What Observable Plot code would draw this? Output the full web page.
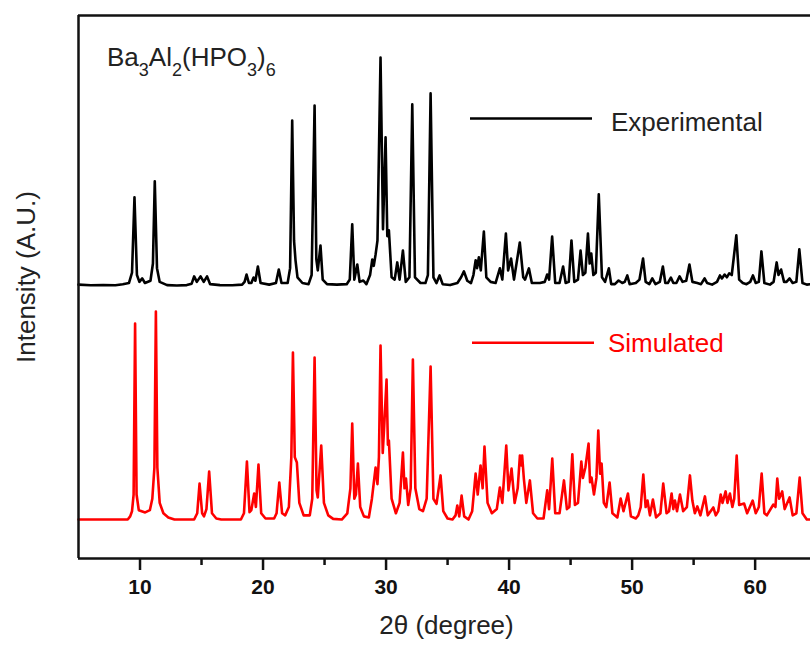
<!DOCTYPE html>
<html><head><meta charset="utf-8">
<script src="https://cdn.jsdelivr.net/npm/d3@7"></script>
<script src="https://cdn.jsdelivr.net/npm/@observablehq/plot@0.6"></script>
<style>body{margin:0;background:#fff}svg{display:block}</style>
</head><body><div id="chart"></div>
<script>
// [2θ (degree), relative intensity (max = 100)]
const experimental = [[5,0.8],[6,0.5],[7,0.6],[8,0.5],[8.6,1.0],[9.1,1.5],[9.35,6],[9.55,38.9],[9.75,5],[9.95,2],[10.18,3.5],[10.4,1.5],[10.85,2.5],[11.05,10],[11.2,45.9],[11.38,8],[11.6,2],[12.2,0.6],[13,0.4],[13.8,0.6],[14.2,1.2],[14.4,4.4],[14.62,2],[14.92,4.4],[15.18,2],[15.45,4.4],[15.7,1],[16.5,0.6],[17.5,0.5],[18.3,0.8],[18.5,2],[18.66,5.2],[18.85,1.5],[19.05,1.5],[19.23,3.9],[19.38,2.5],[19.58,8.7],[19.8,1.5],[20.5,0.8],[21.05,1.5],[21.28,7.4],[21.5,1.5],[22.0,1.5],[22.2,8],[22.37,72.5],[22.52,20],[22.64,11.4],[22.8,4],[23.2,1.5],[23.7,1],[23.95,5],[24.19,79],[24.33,12],[24.45,7],[24.67,17.9],[24.85,3],[25.2,1],[26,0.8],[26.8,1],[27.05,3],[27.25,27.1],[27.42,3],[27.66,9.6],[27.85,2],[28.15,2.6],[28.4,1],[28.7,5],[28.88,11.8],[29.0,9],[29.15,14],[29.3,20],[29.55,100],[29.75,25],[29.96,65.1],[30.1,22],[30.23,24.5],[30.45,4],[30.7,3],[30.91,10.5],[31.1,3],[31.37,15.7],[31.6,2],[31.9,4],[32.13,79.5],[32.35,4],[32.8,1.5],[33.2,1.5],[33.4,5],[33.62,84.3],[33.85,4],[34.1,1.5],[34.35,4.8],[34.6,1],[35.2,0.6],[35.8,1.5],[36.1,4],[36.33,6.6],[36.6,2.5],[36.9,1.5],[37.1,5],[37.28,11.4],[37.4,8],[37.54,12.7],[37.7,7],[37.95,24],[38.15,4],[38.5,2],[38.9,1.5],[39.25,7.9],[39.45,3],[39.74,23.1],[39.92,7],[40.16,12.2],[40.4,3],[40.87,19.2],[41.15,4],[41.3,3],[41.61,7.9],[41.85,1.5],[42.5,1.5],[42.9,2],[43.09,5.2],[43.25,3],[43.5,21.8],[43.75,1.5],[44.1,1.5],[44.39,8.7],[44.6,1.5],[44.85,2],[45.07,20.1],[45.3,2],[45.6,3],[45.81,15.7],[46.0,5],[46.2,6],[46.41,23.1],[46.55,10],[46.68,14.4],[46.85,5],[47.05,6],[47.29,40.2],[47.55,4],[47.8,2],[48.11,7.9],[48.3,1],[48.6,1],[48.9,2.6],[49.2,1.5],[49.4,2],[49.61,4.8],[49.8,1],[50.3,1.5],[50.6,3],[50.89,12.2],[51.1,2],[51.4,1],[51.64,3.5],[51.9,1],[52.25,2],[52.5,8.7],[52.7,1.5],[52.9,1.5],[53.15,3.9],[53.35,1.5],[53.6,1.5],[53.86,4.4],[54.1,2],[54.4,2.5],[54.66,9.6],[54.9,2],[55.3,1.5],[55.6,1],[55.89,3.5],[56.1,1.5],[56.5,0.8],[56.9,2],[57.14,4.8],[57.3,3.5],[57.52,5.2],[57.7,4],[57.89,5.7],[58.1,5],[58.47,22.3],[58.7,3],[59.0,1.5],[59.3,1],[59.6,2],[59.82,4.8],[60.05,1.5],[60.3,2],[60.51,15.3],[60.75,1.5],[61.2,0.8],[61.5,2],[61.75,10.5],[61.9,5],[62.11,7.4],[62.35,2],[62.55,2],[62.8,3.5],[63.05,1.5],[63.35,2],[63.59,16.2],[63.85,1.5],[64.2,0.8],[64.5,1]];

const simulated = [[5,0],[9.0,0],[9.2,1.5],[9.35,4],[9.48,12],[9.6,94.2],[9.72,12],[9.9,4.5],[10.42,3.4],[10.8,4.5],[11.0,10],[11.17,25],[11.29,100],[11.41,25],[11.6,8],[11.9,3],[12.3,1],[12.8,0],[14.4,0],[14.65,3],[14.84,17.3],[15.05,3],[15.2,1.5],[15.4,5],[15.62,23.1],[15.85,3],[16.2,0.5],[16.6,0],[18.2,0],[18.45,3],[18.69,27.9],[18.9,3.5],[19.05,4.5],[19.28,12.5],[19.42,6],[19.63,26.4],[19.85,3],[20.2,0.5],[20.9,0.5],[21.1,3],[21.32,17.8],[21.55,3],[21.8,2],[22.1,6],[22.3,30],[22.43,80.3],[22.58,30],[22.75,27.4],[22.95,8],[23.3,2],[23.8,2],[24.0,10],[24.19,77.9],[24.35,14],[24.45,10.6],[24.73,35.6],[24.95,8],[25.3,2],[25.7,0.3],[26.4,0],[26.85,3],[27.1,15],[27.25,46.2],[27.42,10],[27.55,12],[27.71,26.9],[27.9,6],[28.2,1.5],[28.6,1],[28.85,10],[29.15,25],[29.3,17],[29.42,30],[29.55,83.7],[29.73,32],[29.85,45],[30.04,67.3],[30.15,36],[30.23,38],[30.45,10],[30.8,3],[31.1,8],[31.37,32.2],[31.5,15],[31.62,19.7],[31.8,7],[32.0,15],[32.18,76.9],[32.38,15],[32.7,5],[33.0,4],[33.3,10],[33.62,73.6],[33.85,10],[34.1,7.5],[34.43,21.2],[34.65,4],[35.0,0.5],[35.4,0],[35.65,2],[35.79,6.7],[35.95,1.5],[36.14,11.5],[36.35,1.5],[36.7,0],[37.0,4],[37.28,22.1],[37.45,12],[37.68,26],[37.85,15],[38.0,35.1],[38.25,8],[38.6,3],[39.0,5],[39.25,15.4],[39.45,8],[39.77,35.6],[39.95,14],[40.2,24.5],[40.45,8],[40.7,15],[40.88,30.8],[41.0,26],[41.06,30.8],[41.2,19.7],[41.4,8],[41.69,18.8],[41.95,3],[42.3,0.5],[42.8,0.5],[43.1,14],[43.25,5],[43.51,29.3],[43.75,3],[44.1,3],[44.46,18.8],[44.7,5],[44.9,6],[45.14,31.3],[45.35,7],[45.6,8],[45.87,27.9],[46.0,20],[46.2,25],[46.46,36.5],[46.58,18],[46.7,20.2],[46.9,12],[47.1,20],[47.25,42.8],[47.4,22],[47.52,26.9],[47.7,8],[47.9,6],[48.17,17.8],[48.4,3],[48.8,1],[49.07,10.1],[49.3,4],[49.66,12.5],[49.9,1.5],[50.3,0.5],[50.5,2],[50.7,6],[50.91,21.6],[51.1,6],[51.25,9.1],[51.45,2],[51.69,9.6],[51.95,1],[52.3,3],[52.53,17.3],[52.8,3],[53.0,4],[53.21,12.5],[53.35,5],[53.48,9.1],[53.65,4],[53.89,12],[54.15,4],[54.45,6],[54.7,21.2],[54.9,9],[55.1,3],[55.3,6.3],[55.55,2],[55.92,11.1],[56.15,2],[56.6,5.8],[56.8,2],[57.0,4],[57.2,12],[57.35,8],[57.6,13.5],[57.75,8],[57.95,12.5],[58.15,6],[58.3,10],[58.5,30.8],[58.7,7],[59.1,7.7],[59.35,3],[59.8,9.1],[60.05,3],[60.3,6],[60.53,22.1],[60.75,3],[60.95,2],[61.48,7.2],[61.65,6],[61.8,19.7],[61.95,10],[62.2,13.5],[62.4,5],[62.8,10.6],[63.05,2],[63.35,3],[63.62,20.2],[63.85,3],[64.2,0],[64.5,0]];

const majorTicks = [10, 20, 30, 40, 50, 60];
const minorTicks = [15, 25, 35, 45, 55];
const seriesNames = ["Experimental", "Simulated"];
const seriesColors = ["#000000", "#ff0000"];
const xLabel = "2θ (degree)";
const yLabel = "Intensity (A.U.)";
const formula = [["Ba", false], ["3", true], ["Al", false], ["2", true], ["(HPO", false], ["3", true], [")", false], ["6", true]];

// layout: vertical stacking of the two patterns
const expOffset = 50.1, expScale = 0.4217;
const simOffset = 7.18, simScale = 0.383;
const font = "'Liberation Sans', Arial, Helvetica, sans-serif";

const plot = Plot.plot({
  width: 810, height: 646,
  marginTop: 15, marginRight: 0, marginBottom: 88, marginLeft: 78,
  style: {fontFamily: font, background: "white", color: "#111"},
  x: {domain: [5, 64.5]},
  y: {domain: [0, 100], axis: null},
  marks: [
    Plot.line(simulated, {x: d => d[0], y: d => simOffset + d[1] * simScale, stroke: seriesColors[1], strokeWidth: 2.6}),
    Plot.line(experimental, {x: d => d[0], y: d => expOffset + d[1] * expScale, stroke: seriesColors[0], strokeWidth: 2.6}),
    Plot.axisX(minorTicks, {tickSize: 7, strokeWidth: 2.5, tickFormat: () => "", label: null}),
    Plot.axisX(majorTicks, {tickSize: 12, strokeWidth: 2.5, tickFormat: () => "", label: null}),
    Plot.text(majorTicks, {x: d => d, text: d => String(d), frameAnchor: "bottom", dy: 29, fontSize: 21, fontWeight: "bold", textAnchor: "middle", lineAnchor: "middle", fill: "#111"}),
    Plot.ruleX([5], {strokeWidth: 2.5}),
    Plot.ruleY([0], {strokeWidth: 2.5}),
    Plot.ruleY([100], {strokeWidth: 2.5}),
    Plot.text([xLabel], {text: d => d, frameAnchor: "bottom", dy: 67, dx: 2, fontSize: 26, textAnchor: "middle", lineAnchor: "middle", fill: "#222"}),
    Plot.text([yLabel], {text: d => d, frameAnchor: "left", dx: -52, dy: -10, rotate: -90, fontSize: 26, textAnchor: "middle", lineAnchor: "middle", fill: "#222"})
  ]
});

const svg = d3.select(plot);
const g = svg.append("g").attr("font-family", font).attr("text-anchor", "start");

// compound formula with subscripts
const ft = g.append("text").attr("x", 107).attr("y", 66).attr("font-size", 26).attr("fill", "#222");
let lowered = false;
formula.forEach(([s, sub]) => {
  const ts = ft.append("tspan").text(s).attr("font-size", sub ? 18 : 26);
  if (sub && !lowered) { ts.attr("dy", 10); lowered = true; }
  else if (!sub && lowered) { ts.attr("dy", -10); lowered = false; }
});

// in-plot legend
const legendRows = [{y: 118.5, ty: 130.7, lx: 470, tx: 611}, {y: 342.7, ty: 352, lx: 472, tx: 608}];
seriesNames.forEach((name, i) => {
  const r = legendRows[i];
  g.append("line").attr("x1", r.lx).attr("x2", r.lx + 122).attr("y1", r.y).attr("y2", r.y)
    .attr("stroke", seriesColors[i]).attr("stroke-width", 2.5);
  g.append("text").attr("x", r.tx).attr("y", r.ty).attr("font-size", 26)
    .attr("fill", i === 0 ? "#222" : seriesColors[i]).text(name);
});

document.getElementById("chart").appendChild(plot);
</script>
</body></html>
